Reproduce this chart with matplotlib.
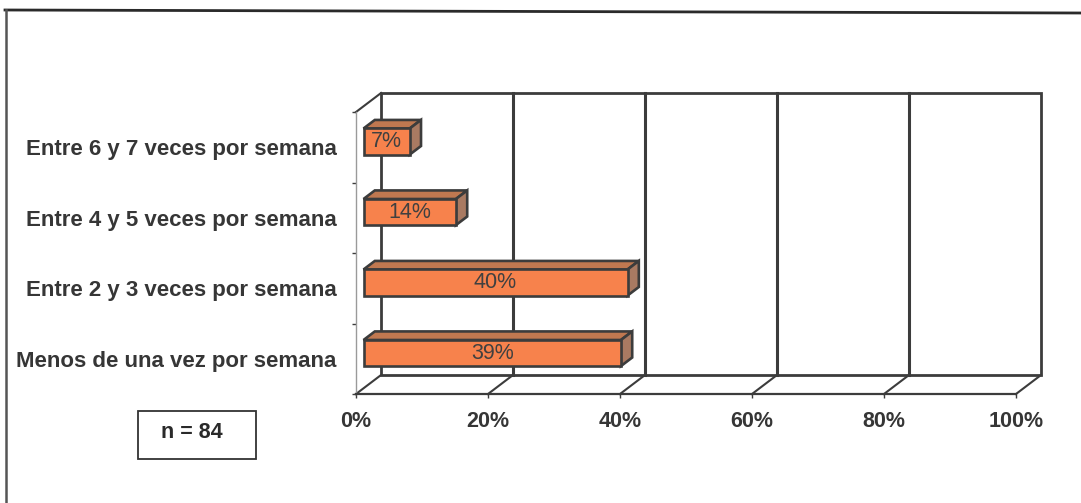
import matplotlib
matplotlib.use("Agg")
import matplotlib.pyplot as plt
from matplotlib.patches import Polygon, Rectangle
from matplotlib.lines import Line2D

plt.rcParams['font.family'] = ['Liberation Sans', 'DejaVu Sans']

# ---- data ----
categories = [
    "Menos de una vez por semana",
    "Entre 2 y 3 veces por semana",
    "Entre 4 y 5 veces por semana",
    "Entre 6 y 7 veces por semana",
]
values = [39, 40, 14, 7]          # percent
x_ticks = [0, 20, 40, 60, 80, 100]
x_tick_labels = [f"{t}%" for t in x_ticks]
sample_note = "n = 84"

# ---- style ----
W, H = 1081, 503
TEXT = '#363636'
EDGE = '#3c3c3c'
FRONT = '#f7824c'
TOP = '#c07850'
SIDE = '#a97a62'
FS = 15.5

# oblique depth vector (data units for depth = 1)
DX, DY = 3.8, 0.27
BAR_Z0, BAR_Z1 = 0.30, 0.75
BAR_H = 0.37


def proj(pts):
    return [(x + z * DX, y + z * DY) for x, y, z in pts]


fig = plt.figure(figsize=(W / 100, H / 100), dpi=100)
fig.patch.set_facecolor('white')

ax = fig.add_axes([356 / W, (H - 394) / H, 660 / W, 282 / H])
ax.set_xlim(0, 100)
ax.set_ylim(0, len(categories))
ax.patch.set_visible(False)
for s in ('top', 'right'):
    ax.spines[s].set_visible(False)
ax.spines['bottom'].set_color(EDGE)
ax.spines['bottom'].set_linewidth(1.6)
ax.spines['left'].set_color('#9a9a9a')
ax.spines['left'].set_linewidth(1.0)

ax.set_xticks(x_ticks)
ax.set_xticklabels(x_tick_labels, fontweight='bold')
ax.tick_params(axis='x', direction='out', length=3, width=1, color=EDGE,
               pad=9, labelsize=FS, labelcolor=TEXT)

n = len(categories)
ax.set_yticks(range(n + 1))
ax.set_yticklabels([''] * (n + 1))
ax.set_yticks([i + 0.5 for i in range(n)], minor=True)
ax.set_yticklabels(categories, minor=True, fontweight='bold')
ax.tick_params(axis='y', which='major', direction='out', length=3, width=1, color=EDGE)
ax.tick_params(axis='y', which='minor', length=0, pad=14, labelsize=16, labelcolor=TEXT)

kw = dict(clip_on=False)

# back wall
ax.add_patch(Polygon(proj([(0, 0, 1), (100, 0, 1), (100, n, 1), (0, n, 1)]),
                     closed=True, facecolor='white', edgecolor=EDGE, lw=2.0, zorder=1, **kw))
# gridlines on back wall
for t in x_ticks[1:-1]:
    p = proj([(t, 0, 1), (t, n, 1)])
    ax.add_line(Line2D([p[0][0], p[1][0]], [p[0][1], p[1][1]], color=EDGE, lw=2.2, zorder=1.5, **kw))
# floor diagonals
for t in x_ticks:
    p = proj([(t, 0, 0), (t, 0, 1)])
    ax.add_line(Line2D([p[0][0], p[1][0]], [p[0][1], p[1][1]], color=EDGE, lw=1.5, zorder=1.5, **kw))
# left wall top edge
p = proj([(0, n, 0), (0, n, 1)])
ax.add_line(Line2D([p[0][0], p[1][0]], [p[0][1], p[1][1]], color=EDGE, lw=1.5, zorder=1.5, **kw))

# bars
for i, v in enumerate(values):
    c = i + 0.5
    y0, y1 = c - BAR_H / 2, c + BAR_H / 2
    top = proj([(0, y1, BAR_Z0), (v, y1, BAR_Z0), (v, y1, BAR_Z1), (0, y1, BAR_Z1)])
    side = proj([(v, y0, BAR_Z0), (v, y1, BAR_Z0), (v, y1, BAR_Z1), (v, y0, BAR_Z1)])
    front = proj([(0, y0, BAR_Z0), (v, y0, BAR_Z0), (v, y1, BAR_Z0), (0, y1, BAR_Z0)])
    for poly, col in ((top, TOP), (side, SIDE), (front, FRONT)):
        ax.add_patch(Polygon(poly, closed=True, facecolor=col, edgecolor=EDGE,
                             lw=1.9, joinstyle='miter', zorder=3, **kw))
    cx, cy = proj([(v / 2, c, BAR_Z0)])[0]
    ax.text(cx, cy, f"{v}%", ha='center', va='center', fontsize=FS,
            color='#404040', zorder=4)

# outer frame of the chart area
fig.add_artist(Line2D([5 / W, 1.0], [1 - 10 / H, 1 - 13 / H], color='#2a2a2a', lw=2.0))
fig.add_artist(Line2D([6 / W, 6 / W], [1 - 10 / H, 0.0], color='#555555', lw=1.8))

# sample size box
fig.add_artist(Rectangle((138 / W, 1 - 459 / H), 118 / W, 48 / H, facecolor='white',
                         edgecolor='#333333', lw=1.3))
fig.text(192 / W, 1 - 433 / H, sample_note, ha='center', va='center',
         fontsize=FS, fontweight='bold', color='#2a2a2a')

fig.savefig('out.png', dpi=100, facecolor='white')
